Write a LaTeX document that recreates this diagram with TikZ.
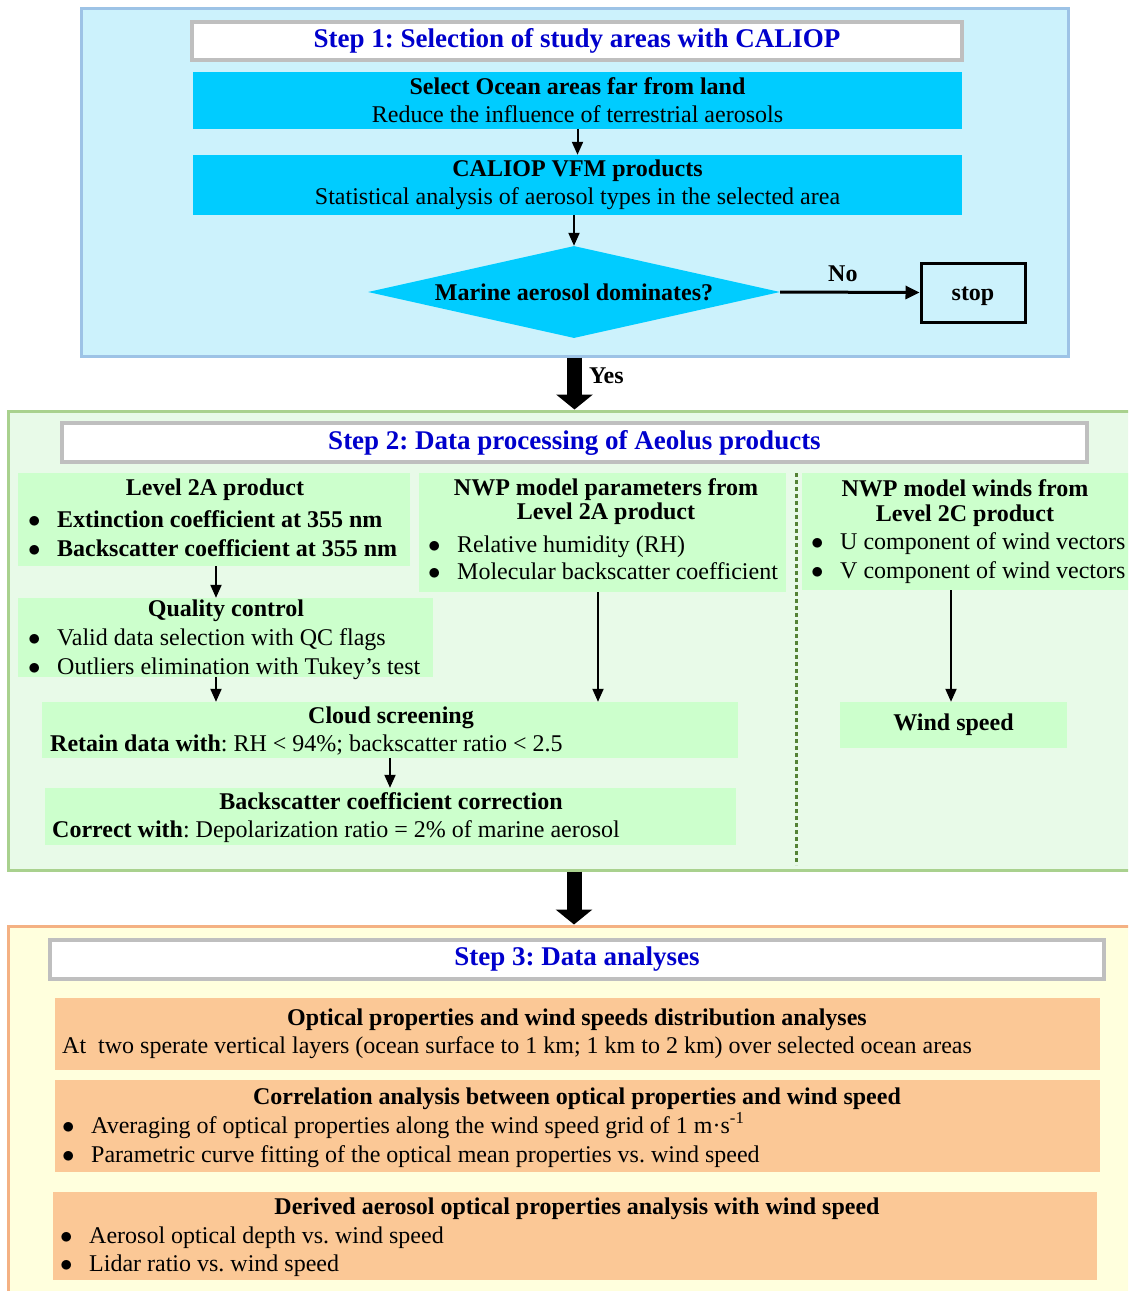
\documentclass[tikz,border=0pt]{standalone}
\usepackage{fontspec}
\setmainfont{Liberation Serif}
\frenchspacing
\usetikzlibrary{arrows.meta}
\usetikzlibrary{shapes.geometric}
\definecolor{onefill}{RGB}{204,242,252}
\definecolor{oneline}{RGB}{157,195,230}
\definecolor{twofill}{RGB}{232,250,232}
\definecolor{twoline}{RGB}{169,209,142}
\definecolor{threefill}{RGB}{255,255,221}
\definecolor{threeline}{RGB}{244,177,131}
\definecolor{caliopcyan}{RGB}{0,204,255}
\definecolor{aeolusgreen}{RGB}{204,255,204}
\definecolor{analysisorange}{RGB}{251,200,150}
\definecolor{headblue}{RGB}{0,0,204}
\definecolor{headgray}{RGB}{191,191,191}
\definecolor{dotgreen}{RGB}{84,130,53}
\def\bline (#1) (#2) #3{\node [txt,anchor=base west] (#1) at (#2) {\makebox[29pt][l]{$\bullet$}#3}}

\begin{document}
\begin{tikzpicture}[
    x=1pt, y=-1pt,
    every node/.style={font=\fontsize{24}{28}\selectfont},
    txt/.style={inner sep=0pt, anchor=base},
    btxt/.style={txt, font=\bfseries\fontsize{24}{28}\selectfont},
    panel/.style={line width=3pt, inner sep=0pt},
    heading/.style={draw=headgray, fill=white, line width=3.5pt,
        text=headblue, font=\bfseries\fontsize{27}{32}\selectfont},
    cbox/.style={fill=caliopcyan, inner sep=0pt, align=center},
    gbox/.style={fill=aeolusgreen, inner sep=0pt},
    obox/.style={fill=analysisorange, inner sep=0pt},
    c/.style={draw=black, line width=2pt, -{Triangle[width=11pt,length=13pt]}},
    bigarrow/.style={draw=black, line width=15pt, -{Triangle[width=36pt,length=15pt]}}
]
\useasboundingbox (0,0) rectangle (1128,1291);
\clip (0,0) rectangle (1128,1291);

% Step 1
\node [panel, draw=oneline, fill=onefill, minimum width=987pt, minimum height=348pt] (step1) at (574.5,182) {};
\node [heading, minimum width=770pt, minimum height=38pt] (head1) at (577,41) {Step 1: Selection of study areas with CALIOP};
\node [cbox, minimum width=769pt, minimum height=57pt] (ocean) at (577.5,100.5)
    {\textbf{Select Ocean areas far from land}\\Reduce the influence of terrestrial aerosols};
\node [cbox, minimum width=769pt, minimum height=60pt] (caliop) at (577.5,185)
    {\textbf{CALIOP VFM products}\\Statistical analysis of aerosol types in the selected area};
\node [diamond, fill=caliopcyan, inner sep=0pt, aspect=4.5, minimum width=412pt, minimum height=92pt,
    font=\bfseries\fontsize{24}{28}\selectfont] (marine) at (574,292) {Marine aerosol dominates?};
\node [draw=black, line width=3pt, minimum width=104pt, minimum height=59pt, text height=21pt, text depth=5pt,
    font=\bfseries\fontsize{24}{28}\selectfont] (stop) at (973,292.5) {stop};

\draw [c] (ocean.south) -- (ocean.south |- caliop.north);
\draw [c] (caliop.south -| marine.north) -- (marine.north);
\draw [c, line width=3pt, -{Triangle[width=13pt,length=14pt]}] (marine.east) -- (stop.west)
    node [btxt, pos=0.45, above=9pt] (no) {No};

% Step 2
\node [panel, draw=twoline, fill=twofill, minimum width=1132pt, minimum height=459pt] (step2) at (574,640.5) {};
\node [heading, minimum width=1025pt, minimum height=39pt] (head2) at (574.5,442.5) {Step 2: Data processing of Aeolus products};

\draw [bigarrow] (step1.south) -- (step1.south |- step2.north)
    node [btxt, pos=0.35, right=7pt] (yes) {Yes};

\node [gbox, minimum width=392pt, minimum height=93pt] (l2a) at (214,519.5) {};
\node [gbox, minimum width=367pt, minimum height=119pt] (nwpa) at (602.5,532.5) {};
\node [gbox, minimum width=338pt, minimum height=117pt] (nwpc) at (971,531.5) {};
\node [gbox, minimum width=415pt, minimum height=79pt] (qc) at (225.5,637.5) {};
\node [gbox, minimum width=696pt, minimum height=56pt] (cloud) at (390,730) {};
\node [gbox, minimum width=691pt, minimum height=57pt] (bsc) at (390.5,816.5) {};
\node [gbox, minimum width=227pt, minimum height=46pt, font=\bfseries\fontsize{24}{28}\selectfont] (wind) at (953.5,725) {Wind speed};

\draw [dotgreen, line width=3pt, dash pattern=on 4pt off 3pt] (796,473) -- (796,865);

\node [btxt] (l2at) at (215,495) {Level 2A product};
\bline (l2a1) (28,527) {\textbf{Extinction coefficient at 355 nm}};
\bline (l2a2) (28,556) {\textbf{Backscatter coefficient at 355 nm}};

\node [btxt] (nwpat1) at (606,495) {NWP model parameters from};
\node [btxt] (nwpat2) at (606,519) {Level 2A product};
\bline (nwpa1) (428,552) {Relative humidity (RH)};
\bline (nwpa2) (428,579) {Molecular backscatter coefficient};

\node [btxt] (nwpct1) at (965,496) {NWP model winds from};
\node [btxt] (nwpct2) at (965,521) {Level 2C product};
\bline (nwpc1) (811,549) {U component of wind vectors};
\bline (nwpc2) (811,578) {V component of wind vectors};

\node [btxt] (qct) at (226,616) {Quality control};
\bline (qc1) (28,645) {Valid data selection with QC flags};
\bline (qc2) (28,674) {Outliers elimination with Tukey's test};

\node [btxt] (cloudt) at (391,723) {Cloud screening};
\node [txt, anchor=base west] (cloud1) at (50,751) {\textbf{Retain data with}: RH < 94\%; backscatter ratio < 2.5};

\node [btxt] (bsct) at (391,809) {Backscatter coefficient correction};
\node [txt, anchor=base west] (bsc1) at (52,837) {\textbf{Correct with}: Depolarization ratio = 2\% of marine aerosol};

\draw [c] ([xshift=2pt]l2a.south) -- ([xshift=2pt]l2a.south |- qc.north);
\draw [c] ([xshift=-9.5pt]qc.south) -- ([xshift=-9.5pt]qc.south |- cloud.north);
\draw [c] ([xshift=-4.5pt]nwpa.south) -- ([xshift=-4.5pt]nwpa.south |- cloud.north);
\draw [c] ([xshift=-20pt]nwpc.south) -- ([xshift=-20pt]nwpc.south |- wind.north);
\draw [c] (cloud.south) -- (cloud.south |- bsc.north);

% Step 3
\node [panel, draw=threeline, fill=threefill, minimum width=1132pt, minimum height=384pt] (step3) at (574,1118) {};
\node [heading, minimum width=1054pt, minimum height=39pt] (head3) at (577,959.5) {Step 3: Data analyses};

\draw [bigarrow] (step2.south) -- (step2.south |- step3.north);

\node [obox, minimum width=1045pt, minimum height=72pt] (dist) at (577.5,1034) {};
\node [obox, minimum width=1045pt, minimum height=92pt] (corr) at (577.5,1126) {};
\node [obox, minimum width=1044pt, minimum height=88pt] (deriv) at (575,1236) {};

\node [btxt] (distt) at (577,1025) {Optical properties and wind speeds distribution analyses};
\node [txt, anchor=base west] (dist1) at (62,1053) {At\ \ two sperate vertical layers (ocean surface to 1 km; 1 km to 2 km) over selected ocean areas};

\node [btxt] (corrt) at (577,1104) {Correlation analysis between optical properties and wind speed};
\bline (corr1) (62,1133) {Averaging of optical properties along the wind speed grid of 1 m·s\textsuperscript{-1}};
\bline (corr2) (62,1162) {Parametric curve fitting of the optical mean properties vs. wind speed};

\node [btxt] (derivt) at (577,1214) {Derived aerosol optical properties analysis with wind speed};
\bline (deriv1) (60,1243) {Aerosol optical depth vs. wind speed};
\bline (deriv2) (60,1271) {Lidar ratio vs. wind speed};

\end{tikzpicture}
\end{document}
